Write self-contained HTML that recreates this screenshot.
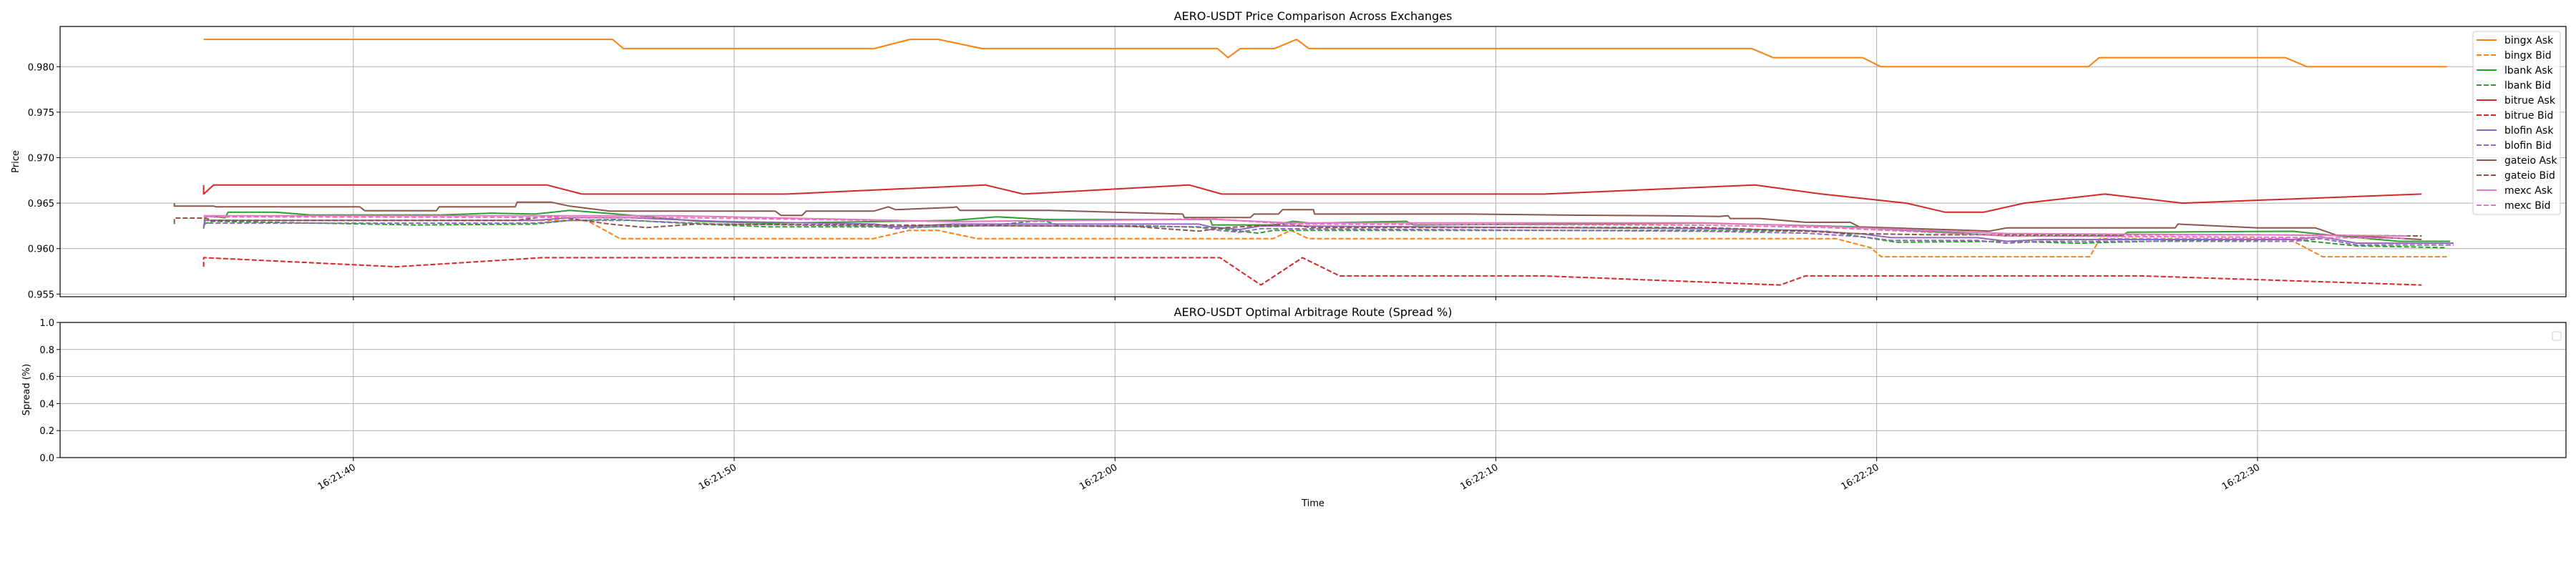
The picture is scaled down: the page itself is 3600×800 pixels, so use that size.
<!DOCTYPE html>
<html><head><meta charset="utf-8"><style>
html,body{margin:0;padding:0;background:#fff;}
svg{display:block;font-family:"DejaVu Sans","Liberation Sans",sans-serif;}
</style></head><body>
<svg id="chart" width="3600" height="800" viewBox="0 0 3600 800" xmlns="http://www.w3.org/2000/svg">
<rect width="3600" height="800" fill="#fff"/>
<g id="topchart"></g>
<g id="botchart"></g>
</svg>
<script>
// time in seconds after 16:21:00
const xTickSeconds = [40, 50, 60, 70, 80, 90];
const xTickLabels = ["16:21:40","16:21:50","16:22:00","16:22:10","16:22:20","16:22:30"];
const priceTicks = [0.955, 0.960, 0.965, 0.970, 0.975, 0.980];
const priceTickLabels = ["0.955","0.960","0.965","0.970","0.975","0.980"];
const spreadTicks = [0, 0.2, 0.4, 0.6, 0.8, 1.0];
const spreadTickLabels = ["0.0","0.2","0.4","0.6","0.8","1.0"];
const seriesNames = ["bingx Ask","bingx Bid","lbank Ask","lbank Bid","bitrue Ask","bitrue Bid","blofin Ask","blofin Bid","gateio Ask","gateio Bid","mexc Ask","mexc Bid"];
const seriesColors = ["#ff7f0e","#ff7f0e","#2ca02c","#2ca02c","#d62728","#d62728","#9467bd","#9467bd","#8c564b","#8c564b","#e377c2","#e377c2"];

const bingxAskT = [36.07,46.81,47.09,53.68,54.62,55.37,56.50,62.69,62.97,63.29,64.19,64.77,65.09,76.72,77.28,79.63,80.11,85.56,85.84,90.73,91.30,94.97];
const bingxAskP = [0.983,0.983,0.982,0.982,0.983,0.983,0.982,0.982,0.981,0.982,0.982,0.983,0.982,0.982,0.981,0.981,0.980,0.980,0.981,0.981,0.980,0.980];
const bingxBidT = [36.07,46.13,47.00,53.66,54.58,55.37,56.37,64.15,64.62,65.08,78.92,79.84,80.12,85.60,85.86,90.81,91.71,94.97];
const bingxBidP = [0.9631,0.9631,0.9611,0.9611,0.9620,0.9620,0.9611,0.9611,0.9620,0.9611,0.9611,0.9601,0.9591,0.9591,0.9611,0.9611,0.9591,0.9591];
const lbankAskT = [36.07,36.11,36.63,36.71,37.95,38.87,42.31,43.63,44.76,45.68,46.92,49.05,50.89,55.75,56.89,58.19,62.50,62.55,64.15,64.68,65.15,67.65,67.84,75.50,79.45,80.02,83.42,86.44,86.59,90.94,91.86,93.71,95.06];
const lbankAskP = [0.9622,0.9636,0.9634,0.9640,0.9640,0.9637,0.9637,0.9639,0.9638,0.9642,0.9638,0.9630,0.9628,0.9631,0.9635,0.9632,0.9632,0.9626,0.9626,0.9630,0.9628,0.9630,0.9626,0.9628,0.9624,0.9622,0.9614,0.9614,0.9618,0.9619,0.9615,0.9608,0.9608];
const lbankBidT = [36.07,36.30,41.66,44.76,45.68,46.92,49.05,50.89,55.75,56.89,57.81,58.19,58.57,60.82,62.50,63.76,64.15,75.50,78.69,80.52,83.40,85.28,88.10,90.92,92.61,94.97];
const lbankBidP = [0.9627,0.9630,0.9626,0.9627,0.9631,0.9632,0.9627,0.9624,0.9624,0.9626,0.9630,0.9630,0.9625,0.9625,0.9623,0.9617,0.9620,0.9620,0.9619,0.9607,0.9608,0.9606,0.9609,0.9610,0.9603,0.9601];
const bitrueAskT = [36.07,36.07,36.33,45.08,46.00,51.38,56.59,57.59,61.95,62.80,71.28,76.81,78.56,80.78,81.80,82.81,83.87,85.99,88.02,94.31];
const bitrueAskP = [0.967,0.966,0.967,0.967,0.966,0.966,0.967,0.966,0.967,0.966,0.966,0.967,0.966,0.965,0.964,0.964,0.965,0.966,0.965,0.966];
const bitrueBidT = [36.07,36.07,36.11,41.13,44.95,62.76,63.83,64.92,65.90,71.26,77.47,78.13,86.97,94.31];
const bitrueBidP = [0.958,0.959,0.959,0.958,0.959,0.959,0.956,0.959,0.957,0.957,0.956,0.957,0.957,0.956];
const blofinAskT = [36.07,36.11,44.76,45.68,47.28,49.54,53.68,54.24,55.75,58.94,62.20,62.50,63.27,63.83,75.50,78.13,79.63,80.39,82.64,83.42,84.34,90.92,91.67,92.61,95.15];
const blofinAskP = [0.9625,0.9631,0.9631,0.9634,0.9634,0.9630,0.9627,0.9624,0.9627,0.9627,0.9627,0.9624,0.9621,0.9625,0.9622,0.9620,0.9616,0.9612,0.9612,0.9608,0.9610,0.9610,0.9613,0.9606,0.9606];
const blofinBidT = [36.07,36.11,44.76,45.68,47.28,49.54,53.68,54.24,55.75,58.94,62.20,62.50,63.27,63.83,75.50,78.13,79.63,80.39,82.64,83.42,84.34,90.92,91.67,92.61,95.15];
const blofinBidP = [0.9624,0.9628,0.9628,0.9631,0.9631,0.9627,0.9625,0.9622,0.9625,0.9625,0.9624,0.9621,0.9618,0.9622,0.9619,0.9617,0.9613,0.9609,0.9609,0.9606,0.9608,0.9608,0.9611,0.9604,0.9604];
const gateioAskT = [35.30,35.30,36.33,36.40,40.17,40.30,42.18,42.25,44.25,44.30,45.19,45.68,46.73,51.08,51.23,51.78,51.89,53.66,54.05,54.24,55.75,55.84,55.93,58.28,61.78,61.82,63.55,63.65,64.29,64.40,65.21,65.24,69.31,72.20,74.44,75.87,76.10,76.15,76.94,78.13,79.31,79.54,82.36,82.95,83.42,87.84,87.91,90.02,91.52,91.86,92.05,94.31];
const gateioAskP = [0.9650,0.96467,0.96467,0.96459,0.96459,0.96417,0.96417,0.96459,0.96459,0.96511,0.96511,0.96467,0.96412,0.96412,0.96365,0.96365,0.96412,0.96412,0.96459,0.96428,0.96454,0.96459,0.96420,0.96420,0.96380,0.96341,0.96341,0.96380,0.96380,0.96428,0.96428,0.96380,0.96380,0.96367,0.96362,0.96354,0.96362,0.96331,0.96331,0.96289,0.96289,0.96239,0.96202,0.96192,0.96228,0.96228,0.96270,0.96228,0.96228,0.96179,0.96150,0.96100];
const gateioBidT = [35.30,35.30,36.11,36.30,44.25,45.19,46.73,47.70,49.00,55.00,60.50,62.20,62.90,64.59,65.15,75.50,78.13,79.31,81.50,90.00,94.31];
const gateioBidP = [0.9627,0.96336,0.96336,0.96310,0.96310,0.96359,0.96270,0.96231,0.96270,0.96257,0.96244,0.96192,0.96231,0.96270,0.96231,0.96231,0.96192,0.96166,0.96152,0.96152,0.96139];
const mexcAskT = [36.07,48.41,55.75,62.50,64.59,75.50,78.69,83.40,89.98,93.93];
const mexcAskP = [0.96362,0.96362,0.96297,0.96323,0.96283,0.96283,0.96244,0.96166,0.96152,0.96139];
const mexcBidT = [36.07,48.41,55.75,62.50,64.59,75.50,78.69,83.40,89.98,93.93];
const mexcBidP = [0.96349,0.96341,0.96297,0.96328,0.96270,0.96257,0.96231,0.96139,0.96126,0.96113];

const seriesT = [bingxAskT,bingxBidT,lbankAskT,lbankBidT,bitrueAskT,bitrueBidT,blofinAskT,blofinBidT,gateioAskT,gateioBidT,mexcAskT,mexcBidT];
const seriesP = [bingxAskP,bingxBidP,lbankAskP,lbankBidP,bitrueAskP,bitrueBidP,blofinAskP,blofinBidP,gateioAskP,gateioBidP,mexcAskP,mexcBidP];

const NS = "http://www.w3.org/2000/svg";
function mk(tag, attrs, parent){const e=document.createElementNS(NS,tag);for(const k in attrs)e.setAttribute(k,attrs[k]);parent.appendChild(e);return e;}

const L=84, R=3586;
const T0=32.3, T1=98.1;
function xs(t){return L+(t-T0)/(T1-T0)*(R-L);}
const TOP=37, BOT=415;
function yp(p){return 93.3+(0.980-p)*12720;}
const BT=451, BB=640;
function ys(v){return BB-v*(BB-BT);}

const topG=document.getElementById('topchart');
const botG=document.getElementById('botchart');

xTickSeconds.forEach((s,i)=>{
  const g=mk('line',{x1:xs(s),x2:xs(s),y1:TOP,y2:BOT,stroke:'#b0b0b0','stroke-width':1},topG);
  
  
  mk('line',{x1:xs(s),x2:xs(s),y1:BOT,y2:BOT+5,stroke:'#000','stroke-width':1},topG);
});
priceTicks.forEach((p,i)=>{
  const g=mk('line',{x1:L,x2:R,y1:yp(p),y2:yp(p),stroke:'#b0b0b0','stroke-width':1},topG);
  
  
  mk('line',{x1:L-5,x2:L,y1:yp(p),y2:yp(p),stroke:'#000','stroke-width':1},topG);
  const t=mk('text',{x:L-8,y:yp(p)+5,'text-anchor':'end','font-size':13,fill:'#000'},topG);
  t.textContent=priceTickLabels[i];
  
  
});
seriesNames.forEach((n,i)=>{
  const T=seriesT[i],P=seriesP[i];
  const pts=T.map((t,j)=>xs(t).toFixed(1)+','+yp(P[j]).toFixed(1)).join(' ');
  const dashed=n.endsWith('Bid');
  const pl=mk('polyline',{points:pts,fill:'none',stroke:seriesColors[i],'stroke-width':2,'stroke-linejoin':'round'},topG);
  if(dashed) pl.setAttribute('stroke-dasharray','7,3');
  
  
});
mk('rect',{x:L,y:TOP,width:R-L,height:BOT-TOP,fill:'none',stroke:'#000','stroke-width':1.2},topG);
let tt=mk('text',{x:1835,y:28,'text-anchor':'middle','font-size':16,fill:'#000'},topG);
tt.textContent='AERO-USDT Price Comparison Across Exchanges';


let yl=mk('text',{x:0,y:0,'text-anchor':'middle','font-size':13,fill:'#000',transform:'translate(26,226) rotate(-90)'},topG);
yl.textContent='Price';



const lg=mk('g',{},topG);


mk('rect',{x:3456,y:44,width:122,height:256,rx:3,fill:'#fff','fill-opacity':0.8,stroke:'#ccc','stroke-width':1},lg);
seriesNames.forEach((n,i)=>{
  const y=56+i*21;
  const ln=mk('line',{x1:3461,x2:3489,y1:y,y2:y,stroke:seriesColors[i],'stroke-width':2},lg);
  if(n.endsWith('Bid')) ln.setAttribute('stroke-dasharray','7,3');
  const t=mk('text',{x:3500,y:y+5,'font-size':14,fill:'#000'},lg);
  t.textContent=n;
  
  
});

xTickSeconds.forEach((s,i)=>{
  const g=mk('line',{x1:xs(s),x2:xs(s),y1:BT,y2:BB,stroke:'#b0b0b0','stroke-width':1},botG);
  
  
  mk('line',{x1:xs(s),x2:xs(s),y1:BB,y2:BB+5,stroke:'#000','stroke-width':1},botG);
  const t=mk('text',{x:0,y:0,'text-anchor':'end','font-size':13,fill:'#000',transform:'translate('+(xs(s)+4)+','+(BB+16)+') rotate(-30)'},botG);
  t.textContent=xTickLabels[i];
  
  
});
spreadTicks.forEach((v,i)=>{
  if(v>0&&v<1){const g=mk('line',{x1:L,x2:R,y1:ys(v),y2:ys(v),stroke:'#b0b0b0','stroke-width':1},botG);
  
  }
  mk('line',{x1:L-5,x2:L,y1:ys(v),y2:ys(v),stroke:'#000','stroke-width':1},botG);
  const t=mk('text',{x:L-8,y:ys(v)+5,'text-anchor':'end','font-size':13,fill:'#000'},botG);
  t.textContent=spreadTickLabels[i];
  
  
});
mk('rect',{x:L,y:BT,width:R-L,height:BB-BT,fill:'none',stroke:'#000','stroke-width':1.2},botG);
let bt=mk('text',{x:1835,y:442,'text-anchor':'middle','font-size':16,fill:'#000'},botG);
bt.textContent='AERO-USDT Optimal Arbitrage Route (Spread %)';


let sl=mk('text',{x:0,y:0,'text-anchor':'middle','font-size':13,fill:'#000',transform:'translate(41,545) rotate(-90)'},botG);
sl.textContent='Spread (%)';


let xl=mk('text',{x:1835,y:708,'text-anchor':'middle','font-size':13,fill:'#000'},botG);
xl.textContent='Time';


let el=mk('rect',{x:3567,y:464,width:12,height:12,rx:2,fill:'#fff',stroke:'#ccc','stroke-width':1},botG);


</script>
</body></html>
